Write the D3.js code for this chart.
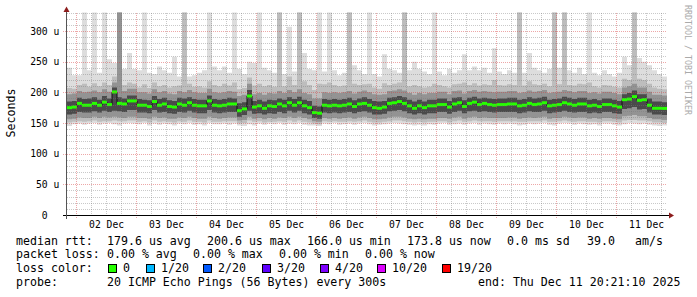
<!DOCTYPE html>
<html>
<head>
<meta charset="utf-8">
<script src="https://cdn.jsdelivr.net/npm/d3@7"></script>
<style>
  body { margin: 0; background: #fff; }
  text { font-family: "DejaVu Sans Mono", monospace; }
</style>
</head>
<body>
<svg id="chart"></svg>
<script>
// median rtt per 2h column (us), Dec 1 20:21 -> Dec 11 20:21 UTC
const median = [
  175,176,182,179,179,182,179,184,180,200.6,
  182,181,186,186,179,179,177,185,179,181,
  177,176,181,179,183,179,178,178,186,179,
  178,179,181,181,170,173,194,176,178,174,
  178,177,181,178,183,179,183,178,175,167,
  166,179,178,179,178,179,181,177,181,182,
  179,175,174,176,182,183,185,182,178,174,
  178,175,178,178,180,180,176,181,183,177,
  182,184,180,182,180,179,180,180,181,181,
  178,179,182,180,181,183,178,179,180,183,
  181,179,181,181,178,179,177,180,180,178,
  176,188,189,193,187,188,179,174,174,173.8
];
// smoke edges (us); 340 = off the top of the graph
const hi1 = [
  240,228,228,340,236,340,232,340,254,248,
  340,238,264,238,236,340,232,230,242,236,
  232,258,226,340,226,228,232,236,340,242,
  236,242,232,340,238,230,250,248,340,240,
  236,232,340,230,307,234,340,264,238,236,
  340,234,340,236,228,232,340,244,236,230,
  340,230,226,262,238,236,232,340,236,250,
  238,234,230,340,234,228,238,232,236,262,
  236,242,236,240,232,272,234,230,236,232,
  340,232,264,240,236,232,238,340,240,340,
  236,232,240,230,340,232,228,236,230,226,
  232,258,244,340,256,250,244,236,230,226
];
const hi2 = [
  207,206,212,214,209,215,210,216,212,226,
  340,212,216,214,208,213,207,216,210,212,
  208,210,211,340,214,209,210,208,218,212,
  210,214,211,216,205,207,224,211,214,210,
  212,209,340,210,226,212,340,218,212,204,
  214,213,216,212,210,211,340,214,212,213,
  214,208,206,215,212,214,216,340,210,212,
  210,208,209,214,212,210,208,213,214,216,
  212,215,211,213,212,220,212,211,213,212,
  340,211,218,213,212,214,210,340,213,340,
  212,211,214,213,216,210,208,212,211,209,
  208,222,220,340,222,220,214,208,206,205
];
const hi3 = [
  197,198,202,200,201,203,200,205,201,216,
  340,202,206,206,200,200,198,205,200,202,
  198,197,202,200,204,200,199,199,206,200,
  199,200,202,201,194,196,214,197,199,196,
  199,198,202,199,204,200,205,199,197,190,
  190,200,199,200,199,200,202,198,201,203,
  200,197,196,197,202,203,205,203,199,196,
  199,197,199,199,201,201,197,202,203,198,
  202,204,201,202,201,200,201,201,202,202,
  199,200,203,201,202,204,199,200,201,204,
  202,200,202,202,199,200,198,201,201,199,
  197,208,210,214,208,208,201,196,196,195
];
const hi4 = [
  185,186,191,189,190,192,188,194,190,208,
  192,190,195,195,189,188,187,194,189,191,
  187,186,191,190,192,189,188,188,195,189,
  188,189,191,190,182,184,204,186,188,185,
  188,187,190,188,192,189,193,188,186,178,
  177,189,188,189,188,189,191,187,190,192,
  189,186,185,186,191,192,194,192,188,185,
  188,185,188,188,190,190,186,191,192,187,
  191,193,190,191,190,189,190,190,191,191,
  188,189,192,190,191,193,188,189,190,193,
  191,189,191,191,188,189,187,190,190,188,
  186,197,199,203,197,197,190,185,185,184
];
const lo4 = [
  164,165,168,167,167,169,167,170,168,170,
  169,168,171,171,167,167,166,171,167,168,
  166,165,168,167,170,167,166,166,171,167,
  166,167,168,168,160,163,170,165,166,164,
  166,165,168,166,170,167,170,166,164,158,
  157,167,166,167,166,167,168,166,168,169,
  167,164,164,165,169,170,171,169,166,164,
  166,164,166,166,168,168,165,168,170,166,
  169,170,168,169,168,167,168,168,168,168,
  166,167,169,168,168,170,166,167,168,170,
  168,167,168,168,166,167,166,168,168,166,
  165,173,174,176,172,173,167,164,164,163
];
const lo3 = [
  156,157,159,158,158,160,158,160,159,160,
  159,158,160,160,158,158,157,160,158,159,
  157,157,159,158,160,158,157,157,160,158,
  157,158,159,159,154,155,160,157,158,156,
  158,157,159,158,160,158,160,158,156,153,
  152,158,157,158,157,158,159,157,159,160,
  158,156,156,157,159,160,160,159,157,156,
  157,156,157,157,158,158,157,159,160,157,
  159,160,158,159,158,158,158,158,159,159,
  157,158,159,158,159,160,157,158,158,160,
  159,158,159,159,157,158,157,158,158,157,
  156,161,162,163,161,161,158,156,156,155
];
const lo2 = [
  151,152,153,152,153,154,152,153,153,154,
  153,153,154,154,152,153,151,154,152,153,
  152,151,153,152,154,152,152,151,154,152,
  152,153,153,153,149,150,154,152,153,151,
  152,152,153,152,154,152,154,152,151,149,
  148,153,152,153,152,152,153,152,153,154,
  152,151,151,152,153,154,154,153,152,151,
  152,151,152,152,153,153,151,153,154,152,
  153,154,153,153,153,152,153,153,153,153,
  152,152,153,153,153,154,152,152,153,154,
  153,152,153,153,152,152,151,153,153,152,
  151,154,155,155,154,154,153,151,151,150
];
const lo1 = [
  145,148,149,147,149,150,147,149,150,148,
  146,149,150,149,148,150,146,149,147,149,
  148,146,149,148,150,147,148,146,150,148,
  148,149,147,149,146,145,148,146,149,147,
  149,148,150,147,149,148,150,147,146,146,
  145,149,148,150,147,148,149,147,149,150,
  148,146,147,148,149,150,149,148,147,146,
  147,146,148,147,149,150,147,148,149,147,
  149,150,147,149,148,147,149,148,149,148,
  146,147,149,148,149,150,147,146,149,150,
  149,147,149,148,147,148,146,149,149,147,
  146,148,150,149,148,149,147,146,145,146
];

const yTicks = [0, 50, 100, 150, 200, 250, 300];
const lossLabels = ["0", "1/20", "2/20", "3/20", "4/20", "10/20", "19/20"];
const lossColors = ["#26ff00", "#00b8ff", "#0059ff", "#5e00ff", "#7e00ff", "#dd00ff", "#ff0000"];

const tStart = Date.UTC(2025, 11, 1, 20, 21, 10);
const tEnd = Date.UTC(2025, 11, 11, 20, 21, 10);
const step = 2 * 3600 * 1000;
const times = d3.range(median.length + 1).map(i => new Date(tStart + i * step));

const svg = d3.select("#chart")
  .attr("width", 697)
  .attr("height", 297);

const x = d3.scaleUtc().domain([new Date(tStart), new Date(tEnd)]).range([67, 667]);
const y = d3.scaleLinear().domain([0, 330]).range([215, 12.6]);

svg.append("defs").append("clipPath").attr("id", "plot")
  .append("rect")
  .attr("x", 67).attr("y", y(330))
  .attr("width", 600).attr("height", 215 - y(330));

// smoke, lightest (outer pings) first
const val = (arr, i) => arr[Math.min(i, arr.length - 1)];
const bands = [
  [lo1, hi1, "#dddddd"],
  [lo2, hi2, "#bdbdbd"],
  [lo3, hi3, "#939393"],
  [lo4, hi4, "#4a4a4a"]
];
const plot = svg.append("g").attr("clip-path", "url(#plot)");
const idx = d3.range(median.length + 1);

bands.forEach(([lo, hi, color]) => {
  const area = d3.area()
    .x(i => x(times[i]))
    .y0(i => y(val(lo, i)))
    .y1(i => y(val(hi, i)))
    .curve(d3.curveStepAfter);
  plot.append("path").attr("d", area(idx)).attr("fill", color);
});

// dark step connecting the medians
plot.append("path")
  .attr("d", d3.line().x(i => x(times[i])).y(i => y(val(median, i))).curve(d3.curveStepAfter)(idx))
  .attr("fill", "none")
  .attr("stroke", "#111")
  .attr("stroke-width", 1);

plot.selectAll(".med")
  .data(median)
  .enter()
  .append("rect")
  .attr("class", "med")
  .attr("x", (d, i) => x(times[i]))
  .attr("width", (d, i) => x(times[i + 1]) - x(times[i]))
  .attr("y", d => y(d) - 1.5)
  .attr("height", 3)
  .attr("fill", lossColors[0]);

// grid
const grid = svg.append("g").attr("stroke-dasharray", "1,1").attr("shape-rendering", "crispEdges");
const minorY = d3.range(10, 331, 10).filter(v => v % 50 !== 0);
grid.selectAll(".hmin").data(minorY).enter().append("line")
  .attr("x1", 67).attr("x2", 667)
  .attr("y1", d => Math.round(y(d)) + 0.5).attr("y2", d => Math.round(y(d)) + 0.5)
  .attr("stroke", "rgba(120,120,120,0.4)");
grid.selectAll(".hmaj").data(yTicks.filter(v => v > 0)).enter().append("line")
  .attr("x1", 63).attr("x2", 667)
  .attr("y1", d => Math.round(y(d)) + 0.5).attr("y2", d => Math.round(y(d)) + 0.5)
  .attr("stroke", "rgba(215,60,60,0.45)");

const sixHours = d3.utcHour.every(6).range(new Date(tStart), new Date(tEnd));
grid.selectAll(".vmin").data(sixHours.filter(d => d.getUTCHours() !== 0)).enter().append("line")
  .attr("x1", d => Math.round(x(d)) + 0.5).attr("x2", d => Math.round(x(d)) + 0.5)
  .attr("y1", y(330)).attr("y2", 217)
  .attr("stroke", "rgba(120,120,120,0.4)");
grid.selectAll(".vmaj").data(d3.utcDay.range(new Date(tStart), new Date(tEnd))).enter().append("line")
  .attr("x1", d => Math.round(x(d)) + 0.5).attr("x2", d => Math.round(x(d)) + 0.5)
  .attr("y1", y(330)).attr("y2", 219)
  .attr("stroke", "rgba(215,60,60,0.45)");

// axes
const xAxis = svg.append("g")
  .attr("transform", "translate(0,215)")
  .call(d3.axisBottom(x)
    .tickValues(d3.utcDay.range(new Date(tStart), new Date(tEnd)).map(d => d3.utcHour.offset(d, 12)))
    .tickFormat(d3.utcFormat("%d %b"))
    .tickSize(0).tickPadding(6.5));
xAxis.select(".domain").remove();
xAxis.selectAll("text").style("font-size", "9.7px").attr("fill", "#000");

const yAxis = svg.append("g")
  .attr("transform", "translate(67,0)")
  .call(d3.axisLeft(y)
    .tickValues(yTicks)
    .tickFormat(v => v ? `${v} u` : "0\u00a0\u00a0")
    .tickSize(0).tickPadding(7.7));
yAxis.select(".domain").remove();
yAxis.selectAll("text").style("font-size", "9.7px").attr("fill", "#000");

svg.append("line").attr("x1", 63).attr("x2", 669).attr("y1", 215.5).attr("y2", 215.5)
  .attr("stroke", "#000");
svg.append("line").attr("x1", 66.5).attr("x2", 66.5).attr("y1", 219).attr("y2", 11)
  .attr("stroke", "#555");
svg.append("path").attr("d", "M669,212.5L674,215.5L669,218.5Z").attr("fill", "#8c1c1c");
svg.append("path").attr("d", "M63.5,12L66.5,6.5L69.5,12Z").attr("fill", "#8c1c1c");

// titles
svg.append("text")
  .attr("transform", "translate(15,113) rotate(-90)")
  .attr("text-anchor", "middle")
  .style("font-size", "11.6px")
  .text("Seconds");

svg.append("text")
  .attr("transform", "translate(685,5) rotate(90)")
  .style("font-size", "8.3px")
  .attr("fill", "#aaa")
  .text("RRDTOOL / TOBI OETIKER");

// legend
const legendFont = "11.6px";
const legendRows = [
  [244.5, [[16, "median rtt:"], [107, "179.6 us avg"], [207, "200.6 us max"], [307, "166.0 us min"],
           [407, "173.8 us now"], [507, "0.0 ms sd"], [587, "39.0"], [635, "am/s"]]],
  [258, [[16, "packet loss:"], [107, "0.00 % avg"], [193, "0.00 % max"], [279, "0.00 % min"], [365, "0.00 % now"]]],
  [271.5, [[16, "loss color:"]]],
  [285.5, [[16, "probe:"], [107, "20 ICMP Echo Pings (56 Bytes) every 300s"], [478, "end: Thu Dec 11 20:21:10 2025"]]]
];
legendRows.forEach(([yy, items]) => {
  items.forEach(([xx, t]) => {
    svg.append("text").attr("x", xx).attr("y", yy)
      .style("font-size", legendFont).text(t);
  });
});

const swatchX = [108, 146, 203, 262, 320, 377, 442];
lossLabels.forEach((lab, i) => {
  svg.append("rect")
    .attr("x", swatchX[i] + 0.5).attr("y", 264.5)
    .attr("width", 8).attr("height", 8)
    .attr("fill", lossColors[i]).attr("stroke", "#000");
  svg.append("text").attr("x", swatchX[i] + 15).attr("y", 271.5)
    .style("font-size", legendFont).text(lab);
});
</script>
</body>
</html>
